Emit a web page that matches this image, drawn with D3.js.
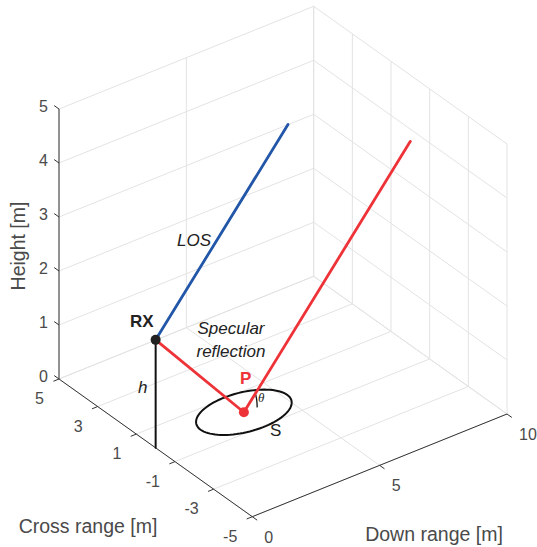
<!DOCTYPE html>
<html>
<head>
<meta charset="utf-8">
<script src="https://cdn.jsdelivr.net/npm/d3@7"></script>
<style>
  body { margin: 0; background: #fff; }
  svg text { font-family: "Liberation Sans", Arial, sans-serif; }
</style>
</head>
<body>
<div id="container"></div>
<script>
let w = 537;
let h = 547;

// axis data
const downTicks = [0, 5, 10];
const crossTicks = [5, 3, 1, -1, -3, -5];
const heightTicks = [0, 1, 2, 3, 4, 5];
const downGrid = [0, 5, 10];
const crossGrid = [5, 3, 1, -1, -3, -5];

// scene data [down, cross, height]
const rxPoint = [0, 0, 2];
const footPoint = [0, 0, 0];
const specPoint = [3.464, 0, 0];
const losEnd = [5.196, 0, 5];
const reflEnd = [10, 0, 3.774];
const zoneRadii = [1.7, 1.05];   // S ellipse semi-axes (down, cross)
const thetaDeg = 30;
const arcRadius = 0.52;

// screen corners of the box floor (measured)
const cornerA = [59, 379];     // down 0, cross 5
const cornerB = [252.3, 516.7]; // down 0, cross -5
const cornerC = [507, 414];    // down 10, cross -5
const zHeight = 270;

let sx = d3.scaleLinear().domain([0, 10]).range([0, 1]);
let sy = d3.scaleLinear().domain([-5, 5]).range([0, 1]);
let sz = d3.scaleLinear().domain([0, 5]).range([0, zHeight]);

function proj(p) {
  let u = sx(p[0]), v = sy(p[1]);
  return [
    cornerB[0] + u * (cornerC[0] - cornerB[0]) + v * (cornerA[0] - cornerB[0]),
    cornerB[1] + u * (cornerC[1] - cornerB[1]) + v * (cornerA[1] - cornerB[1]) - sz(p[2])
  ];
}

let line3 = d3.line().x(d => proj(d)[0]).y(d => proj(d)[1]);

let viz = d3.select("#container").append("svg")
    .attr("width", w)
    .attr("height", h)
;

// GRID
let grid = viz.append("g").attr("fill", "none").attr("stroke", "#e3e3e3").attr("stroke-width", 1);
// back wall at cross = 5
downGrid.forEach(function(x) {
  grid.append("path").attr("d", line3([[x, 5, 0], [x, 5, 5]]));
});
heightTicks.forEach(function(z) {
  grid.append("path").attr("d", line3([[0, 5, z], [10, 5, z]]));
});
// back wall at down = 10
crossGrid.forEach(function(y) {
  grid.append("path").attr("d", line3([[10, y, 0], [10, y, 5]]));
});
heightTicks.forEach(function(z) {
  grid.append("path").attr("d", line3([[10, -5, z], [10, 5, z]]));
});
// floor
downGrid.forEach(function(x) {
  grid.append("path").attr("d", line3([[x, -5, 0], [x, 5, 0]]));
});
crossGrid.forEach(function(y) {
  grid.append("path").attr("d", line3([[0, y, 0], [10, y, 0]]));
});

// AXES
let axes = viz.append("g").attr("fill", "none").attr("stroke", "#333").attr("stroke-width", 1);
axes.append("path").attr("d", line3([[0, 5, 0], [0, 5, 5]]));
axes.append("path").attr("d", line3([[0, 5, 0], [0, -5, 0]]));
axes.append("path").attr("d", line3([[0, -5, 0], [10, -5, 0]]));

let tickText = viz.append("g").attr("fill", "#4a4a4a").attr("font-size", 16);

heightTicks.forEach(function(z) {
  axes.append("path").attr("d", line3([[0, 5, z], [0, 5.25, z]]));
  let p = proj([0, 5, z]);
  tickText.append("text").attr("x", p[0] - 11).attr("y", p[1] + 3)
      .attr("text-anchor", "end").text(z);
});
crossTicks.forEach(function(y) {
  axes.append("path").attr("d", line3([[0, y, 0], [-0.22, y, 0]]));
  let p = proj([0, y, 0]);
  tickText.append("text").attr("x", p[0] - 15).attr("y", p[1] + 25)
      .attr("text-anchor", "end").text(y < 0 ? "-" + Math.abs(y) : y);
});
downTicks.forEach(function(x) {
  axes.append("path").attr("d", line3([[x, -5, 0], [x, -5.25, 0]]));
  let p = proj([x, -5, 0]);
  tickText.append("text").attr("x", p[0] + 12).attr("y", p[1] + 26)
      .attr("text-anchor", "start").text(x);
});

// axis labels
viz.append("text").text("Height [m]")
    .attr("transform", "translate(25,246) rotate(-90)")
    .attr("text-anchor", "middle")
    .attr("font-size", 19.5)
    .attr("fill", "#4a4a4a")
;
viz.append("text").text("Cross range [m]")
    .attr("x", 88).attr("y", 533)
    .attr("text-anchor", "middle")
    .attr("font-size", 19.5)
    .attr("fill", "#4a4a4a")
;
viz.append("text").text("Down range [m]")
    .attr("x", 434).attr("y", 541)
    .attr("text-anchor", "middle")
    .attr("font-size", 19.5)
    .attr("fill", "#4a4a4a")
;

// SCENE
let scene = viz.append("g").attr("fill", "none").attr("stroke-linecap", "round");

// height line
scene.append("path").attr("d", line3([rxPoint, footPoint]))
    .attr("stroke", "#111").attr("stroke-width", 2);

// S ellipse around P
let ellipsePts = d3.range(0, 361, 4).map(function(a) {
  let t = a * Math.PI / 180;
  return [specPoint[0] + zoneRadii[0] * Math.cos(t), specPoint[1] + zoneRadii[1] * Math.sin(t), 0];
});
scene.append("path").attr("d", line3(ellipsePts))
    .attr("stroke", "#111").attr("stroke-width", 2);

// theta arc
let arcPts = d3.range(0, thetaDeg + 1, 2).map(function(a) {
  let t = a * Math.PI / 180;
  return [specPoint[0] + arcRadius * Math.cos(t), 0, arcRadius * Math.sin(t)];
});
scene.append("path").attr("d", line3(arcPts))
    .attr("stroke", "#111").attr("stroke-width", 1.3);

// reflected path
scene.append("path").attr("d", line3([rxPoint, specPoint, reflEnd]))
    .attr("stroke", "#ee3338").attr("stroke-width", 2.8).attr("stroke-linejoin", "round");

// line of sight
scene.append("path").attr("d", line3([rxPoint, losEnd]))
    .attr("stroke", "#2256a8").attr("stroke-width", 2.8);

// points
let rxPix = proj(rxPoint);
viz.append("circle").attr("cx", rxPix[0]).attr("cy", rxPix[1]).attr("r", 5).attr("fill", "#222");
let pPix = proj(specPoint);
viz.append("circle").attr("cx", pPix[0]).attr("cy", pPix[1]).attr("r", 5).attr("fill", "#ee3338");

// LABELS
let labels = viz.append("g").attr("font-size", 17).attr("fill", "#222");
labels.append("text").text("LOS").attr("x", 177).attr("y", 246).attr("font-style", "italic");
labels.append("text").text("RX").attr("x", 130).attr("y", 327).attr("font-weight", "bold");
labels.append("text").text("Specular").attr("x", 231).attr("y", 334)
    .attr("text-anchor", "middle").attr("font-style", "italic");
labels.append("text").text("reflection").attr("x", 231).attr("y", 357)
    .attr("text-anchor", "middle").attr("font-style", "italic");
labels.append("text").text("P").attr("x", 240).attr("y", 384)
    .attr("font-weight", "bold").attr("fill", "#ee3338");
labels.append("text").text("h").attr("x", 138).attr("y", 393).attr("font-style", "italic");
labels.append("text").text("S").attr("x", 270).attr("y", 436);
labels.append("text").text("θ").attr("x", 258).attr("y", 402)
    .attr("font-size", 13).attr("font-style", "italic")
    .style("font-family", "'Liberation Serif', 'DejaVu Serif', serif");
</script>
</body>
</html>
